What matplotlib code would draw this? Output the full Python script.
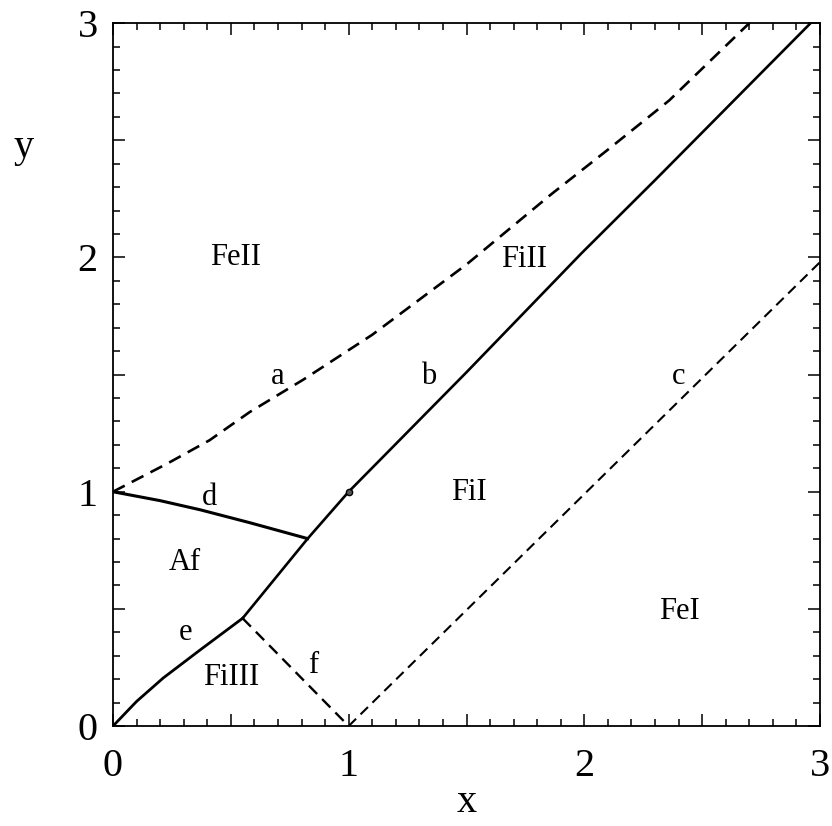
import matplotlib.pyplot as plt
import numpy as np
from matplotlib.ticker import MultipleLocator, FuncFormatter

plt.rcParams['font.family'] = ['Liberation Serif', 'DejaVu Serif']

# Phase boundaries (x, y)
a_x = [0.0, 0.23, 0.41, 0.58, 0.81, 1.10, 1.30, 1.50, 1.86, 2.10, 2.36, 2.70]
a_y = [1.0, 1.12, 1.22, 1.34, 1.48, 1.67, 1.82, 1.97, 2.27, 2.46, 2.67, 3.00]

b_x = [0.55, 0.826, 1.0, 1.5, 1.99, 2.30, 2.96]
b_y = [0.46, 0.80, 1.0, 1.51, 2.02, 2.33, 3.00]

c_x = [1.0, 3.0]
c_y = [0.0, 1.98]

d_x = [0.0, 0.20, 0.37, 0.58, 0.826]
d_y = [1.0, 0.962, 0.923, 0.868, 0.80]

e_x = [0.0, 0.10, 0.213, 0.37, 0.55]
e_y = [0.0, 0.105, 0.205, 0.325, 0.46]

f_x = [0.55, 1.0]
f_y = [0.46, 0.0]

# special point on b
pt_x, pt_y = 1.0, 1.0

# region / curve labels
lbl_text = ['FeII', 'FiII', 'a', 'b', 'c', 'd', 'FiI', 'Af', 'FeI', 'e', 'FiIII', 'f']
lbl_x = [0.52, 1.745, 0.70, 1.34, 2.40, 0.41, 1.51, 0.306, 2.404, 0.306, 0.50, 0.85]
lbl_y = [2.00, 1.99, 1.49, 1.49, 1.49, 0.975, 0.995, 0.70, 0.49, 0.40, 0.207, 0.26]

fig = plt.figure(figsize=(8.32, 8.26), dpi=100)
ax = fig.add_axes([0.1358, 0.121, 0.8498, 0.851])

dash = (0, (5, 3))
ax.plot(a_x, a_y, color='black', lw=1.9, linestyle=dash)
ax.plot(b_x, b_y, color='black', lw=1.9)
ax.plot(c_x, c_y, color='black', lw=1.5, linestyle=dash)
ax.plot(d_x, d_y, color='black', lw=2.2)
ax.plot(e_x, e_y, color='black', lw=2.0)
ax.plot(f_x, f_y, color='black', lw=1.7, linestyle=dash)
ax.plot([pt_x], [pt_y], 'o', color='black', markersize=4.5,
        markerfacecolor='#555555')

for t, x, y in zip(lbl_text, lbl_x, lbl_y):
    ax.text(x, y, t, fontsize=22, ha='center', va='center')

ax.set_xlim(0, 3)
ax.set_ylim(0, 3)

for axis in (ax.xaxis, ax.yaxis):
    axis.set_major_locator(MultipleLocator(0.5))
    axis.set_minor_locator(MultipleLocator(0.1))
    axis.set_major_formatter(FuncFormatter(
        lambda v, p: f'{int(round(v))}' if abs(v - round(v)) < 1e-6 else ''))

ax.tick_params(which='both', direction='in', top=True, right=True,
               width=1.1, labelsize=29)
ax.tick_params(which='major', length=8.5)
ax.tick_params(which='minor', length=5)
ax.tick_params(axis='x', which='major', pad=16)
ax.tick_params(axis='y', which='major', pad=11)
for s in ax.spines.values():
    s.set_linewidth(1.3)

ax.set_xlabel('x', fontsize=29)
ax.xaxis.set_label_coords(0.5, -0.082)
ax.set_ylabel('y', fontsize=29, rotation=0, va='center', ha='center')
ax.yaxis.set_label_coords(-0.127, 0.823)

fig.savefig('out.png', dpi=100)
